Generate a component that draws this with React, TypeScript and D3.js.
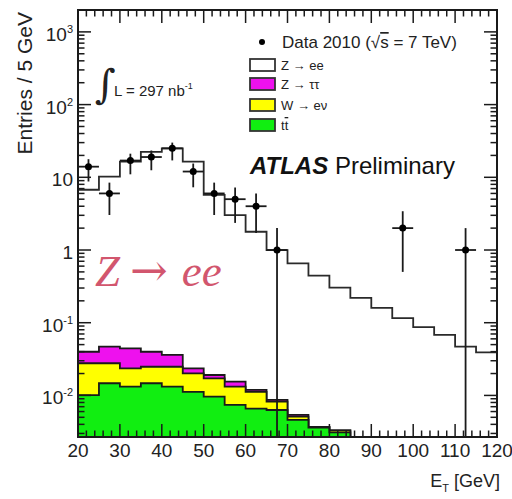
import React from 'react'
import * as d3 from 'd3'

// bins of 5 GeV, lower edges
const binLow = [20, 25, 30, 35, 40, 45, 50, 55, 60, 65, 70, 75, 80, 85, 90, 95, 100, 105, 110, 115]

// MC expectation per bin (entries / 5 GeV)
const zee = [6.7, 10.2, 16.4, 22.4, 25.0, 16.4, 5.7, 3.0, 1.77, 0.99, 0.65, 0.44, 0.30, 0.22, 0.16, 0.116, 0.087, 0.068, 0.047, 0.039]
const ztautau = [0.0122, 0.0191, 0.0209, 0.0151, 0.0112, 0.0035, 0.0019, 0.0023, 0.0007, 0.0005, 0.0003, 0, 0, 0, 0, 0, 0, 0, 0, 0]
const wenu = [0.0176, 0.013, 0.0104, 0.0101, 0.0116, 0.0089, 0.0076, 0.0058, 0.0046, 0.0019, 0.0005, 0.0001, 0.0002, 0, 0, 0, 0, 0, 0, 0]
const ttbar = [0.0101, 0.0147, 0.0132, 0.0147, 0.0132, 0.0112, 0.0096, 0.0074, 0.0066, 0.0063, 0.0046, 0.0036, 0.0031, 0, 0, 0, 0, 0, 0, 0]

// data 2010
const dataCounts = [14, 6, 17, 19, 25, 12, 6, 5, 4, 1, 0, 0, 0, 0, 0, 2, 0, 0, 1, 0]

const xTicks = [20, 30, 40, 50, 60, 70, 80, 90, 100, 110, 120]
const yTickExp = [-2, -1, 0, 1, 2, 3]

const frame = { left: 78, top: 10, right: 497, bottom: 437 }
const yMin = 0.00268
const font = '"Liberation Sans", Arial, sans-serif'

export default function App() {
  const x = d3.scaleLinear().domain([20, 120]).range([frame.left, frame.right])
  const y = d3.scaleLog().domain([yMin, 2000]).range([frame.bottom, frame.top])
  const yc = (v: number) => y(Math.max(v, yMin))

  const rows = binLow.map((b, i) => ({ b, ttbar: ttbar[i], wenu: wenu[i], ztautau: ztautau[i], zee: zee[i] }))
  const stack = d3.stack<any>().keys(['ttbar', 'wenu', 'ztautau', 'zee'])(rows)

  // cumulative histogram, extended to the upper edge so the step closes at 120
  const cum = (k: number) => {
    const s = stack[k].map((d) => d[1])
    return binLow.map((b, i) => [b, s[i]] as [number, number]).concat([[120, s[s.length - 1]]])
  }
  const area = d3.area<[number, number]>()
    .x((d) => x(d[0]))
    .y0(frame.bottom + 5)
    .y1((d) => yc(d[1]))
    .curve(d3.curveStepAfter)

  const layers = [
    { k: 3, fill: '#ffffff', stroke: '#2a2a2a' },
    { k: 2, fill: '#ee11ee', stroke: '#1a1a1a' },
    { k: 1, fill: '#ffff00', stroke: '#1a1a1a' },
    { k: 0, fill: '#11ee11', stroke: '#1a1a1a' },
  ]

  // minor ticks
  const xMinor = d3.range(20, 121, 2)
  const yMinor: number[] = []
  for (let e = -3; e <= 3; e++) for (let m = 2; m <= 9; m++) {
    const v = m * Math.pow(10, e)
    if (v >= yMin && v <= 2000) yMinor.push(v)
  }

  const ax = { stroke: '#1a1a1a', strokeWidth: 1.5 }

  return (
    <svg width={512} height={499} style={{ position: 'absolute', left: 0, top: 0, background: '#fff' }} fontFamily={font}>
      <defs>
        <clipPath id="plot">
          <rect x={frame.left} y={frame.top} width={frame.right - frame.left} height={frame.bottom - frame.top} />
        </clipPath>
      </defs>

      <g clipPath="url(#plot)">
        {layers.map((l) => (
          <path key={l.k} d={area(cum(l.k)) || ''} fill={l.fill} stroke={l.stroke} strokeWidth={1.8} />
        ))}

        {dataCounts.map((n, i) => {
          if (n <= 0) return null
          const cx = x(binLow[i] + 2.5)
          const err = Math.sqrt(n)
          return (
            <g key={i} stroke="#1a1a1a" strokeWidth={1.8}>
              <line x1={x(binLow[i])} x2={x(binLow[i] + 5)} y1={y(n)} y2={y(n)} />
              <line x1={cx} x2={cx} y1={y(n + err)} y2={yc(n - err) + 5} />
              <circle cx={cx} cy={y(n)} r={3.5} fill="#000" stroke="none" />
            </g>
          )
        })}
      </g>

      {/* frame */}
      <rect x={frame.left} y={frame.top} width={frame.right - frame.left} height={frame.bottom - frame.top} fill="none" stroke="#1a1a1a" strokeWidth={2} />

      {/* x ticks, bottom and top */}
      {xMinor.map((t) => {
        const big = xTicks.includes(t)
        const len = big ? 13 : 6.5
        return (
          <g key={'x' + t} style={ax}>
            <line x1={x(t)} x2={x(t)} y1={frame.bottom} y2={frame.bottom - len} />
            <line x1={x(t)} x2={x(t)} y1={frame.top} y2={frame.top + len} />
          </g>
        )
      })}
      {/* y ticks, left and right */}
      {yTickExp.map((e) => (
        <g key={'ym' + e} style={ax}>
          <line x1={frame.left} x2={frame.left + 13} y1={y(Math.pow(10, e))} y2={y(Math.pow(10, e))} />
          <line x1={frame.right} x2={frame.right - 13} y1={y(Math.pow(10, e))} y2={y(Math.pow(10, e))} />
        </g>
      ))}
      {yMinor.map((v) => (
        <g key={'yn' + v} style={ax}>
          <line x1={frame.left} x2={frame.left + 6.5} y1={y(v)} y2={y(v)} />
          <line x1={frame.right} x2={frame.right - 6.5} y1={y(v)} y2={y(v)} />
        </g>
      ))}

      {/* tick labels */}
      {xTicks.map((t) => (
        <text key={'xl' + t} x={x(t)} y={457} textAnchor="middle" fontSize={19} fill="#222">{t}</text>
      ))}
      {yTickExp.map((e) => (
        <text key={'yl' + e} x={73} y={y(Math.pow(10, e)) + 9} textAnchor="end" fontSize={19} fill="#222">
          {e === 0 ? '1' : e === 1 ? '10' : (
            <>10<tspan fontSize={11} dy={-8}>{e}</tspan></>
          )}
        </text>
      ))}

      {/* axis titles */}
      <text transform="translate(32,12) rotate(-90)" textAnchor="end" fontSize={21} fill="#222">Entries / 5 GeV</text>
      <text x={500} y={487} textAnchor="end" fontSize={18} fill="#222">
        E<tspan fontSize={11} dy={5}>T</tspan><tspan dy={-5}> [GeV]</tspan>
      </text>

      {/* luminosity */}
      <text x={95} y={98} fontSize={40} fontFamily='"DejaVu Serif", serif' fill="#222">∫</text>
      <text x={114} y={96} fontSize={15} fill="#222">
        L = 297 nb<tspan fontSize={9} dy={-7}>-1</tspan>
      </text>

      {/* legend */}
      <circle cx={262} cy={42} r={3} fill="#000" />
      <text x={282} y={48} fontSize={17} fill="#222">
        Data 2010 (√<tspan style={{ textDecoration: 'overline' }}>s</tspan> = 7 TeV)
      </text>
      {[
        { label: 'Z → ee', fill: '#ffffff', cy: 65 },
        { label: 'Z → ττ', fill: '#ee11ee', cy: 84 },
        { label: 'W → eν', fill: '#ffff00', cy: 105 },
      ].map((d) => (
        <g key={d.label}>
          <rect x={250} y={d.cy - 6} width={25} height={12} fill={d.fill} stroke="#333" strokeWidth={1.8} />
          <text x={281} y={d.cy + 5} fontSize={13} fill="#222">{d.label}</text>
        </g>
      ))}
      <rect x={250} y={119} width={25} height={12} fill="#11ee11" stroke="#333" strokeWidth={1.8} />
      <text x={281} y={130} fontSize={13} fill="#222">
        t<tspan style={{ textDecoration: 'overline' }}>t</tspan>
      </text>

      <text x={250} y={174} fontSize={24} fill="#111">
        <tspan fontWeight="bold" fontStyle="italic">ATLAS</tspan> Preliminary
      </text>

      {/* channel label */}
      <text x={95} y={286} fontSize={45} fill="#d2566e" fontFamily='"Liberation Serif", "DejaVu Serif", serif'>
        <tspan fontStyle="italic">Z</tspan>
        <tspan fontFamily='"DejaVu Serif", serif' dx={10}>→</tspan>
        <tspan fontStyle="italic" dx={14}>ee</tspan>
      </text>
    </svg>
  )
}
